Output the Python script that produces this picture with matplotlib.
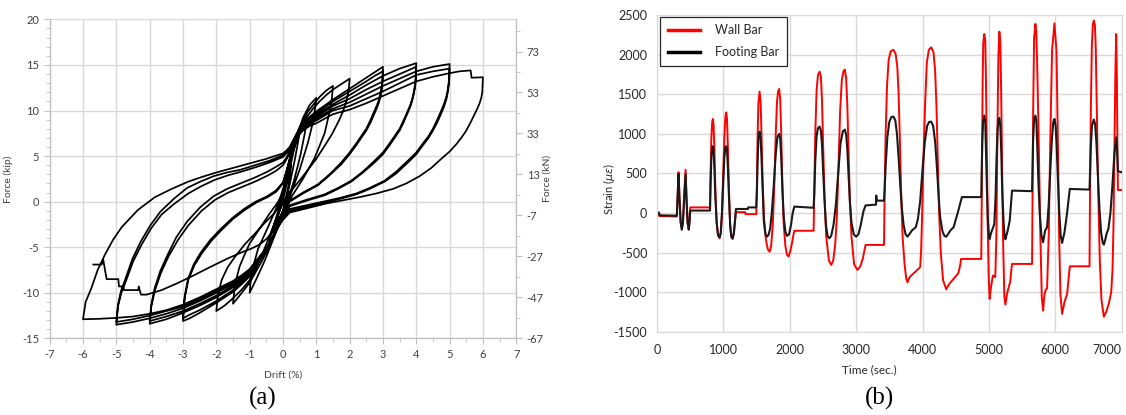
import matplotlib
matplotlib.use("Agg")
import matplotlib.pyplot as plt
from matplotlib.lines import Line2D
from matplotlib.ticker import MultipleLocator, FixedLocator

plt.rcParams['font.family'] = ['Lato', 'DejaVu Sans']
plt.rcParams['axes.unicode_minus'] = False

# ---------------- (a) force - drift, drift (%) / force (kip) ----------------
start = [(0.0, 0.0)]
c025 = [(0.1, 1.8), (0.25, 4.0), (0.15, 1.5), (0.0, -1.0), (-0.15, -2.2), (-0.25, -3.0)]
c05 = [(-0.1, -1.0), (0.1, 2.5), (0.3, 5.5), (0.5, 7.5), (0.35, 4.5), (0.15, 1.0), (0.0, -1.2),
       (-0.25, -3.5), (-0.5, -5.8)]
c1 = [(-0.35, -3.5), (-0.1, -0.5), (0.15, 3.5), (0.35, 6.5), (0.6, 9.2), (0.8, 10.6), (1.0, 11.4),
      (0.92, 9.0), (0.75, 6.5), (0.5, 3.5), (0.25, 1.0), (0.0, -1.5), (-0.3, -4.2), (-0.55, -6.5),
      (-0.8, -8.5), (-1.0, -10.0)]
c15 = [(-0.97, -8.7), (-0.92, -7.5), (-0.75, -5.2), (-0.45, -2.8), (-0.15, -0.3), (0.1, 2.5),
       (0.25, 5.0), (0.45, 7.8), (0.75, 9.9), (1.1, 11.5), (1.3, 12.2), (1.5, 12.7),
       (1.47, 11.4), (1.42, 10.2), (1.25, 7.5), (0.95, 4.8), (0.6, 2.5), (0.25, 0.5), (0.0, -1.3),
       (-0.3, -3.8), (-0.6, -6.3), (-1.0, -8.9), (-1.3, -10.3), (-1.5, -11.2)]
c2 = [(-1.46, -9.8), (-1.4, -8.5), (-1.3, -7.1), (-1.15, -5.8), (-1.0, -4.6), (-0.8, -3.5),
      (-0.6, -2.4), (-0.4, -1.3), (-0.2, -0.3), (0.0, 0.8), (0.1, 2.0), (0.2, 3.5), (0.3, 5.2),
      (0.4, 6.8), (0.55, 8.1), (0.7, 9.2), (0.9, 10.2), (1.1, 11.0), (1.3, 11.7), (1.5, 12.3),
      (1.75, 12.9), (2.0, 13.5),
      (1.97, 12.2), (1.9, 11.0), (1.8, 9.9), (1.68, 8.9), (1.47, 7.4), (1.23, 6.0), (0.98, 4.6),
      (0.73, 3.4), (0.45, 2.1), (0.2, 1.0), (0.0, -0.2), (-0.15, -1.4), (-0.3, -2.8), (-0.45, -4.2),
      (-0.6, -5.6), (-0.8, -7.2), (-1.0, -8.6), (-1.25, -9.7), (-1.5, -10.6), (-1.75, -11.4),
      (-2.0, -12.0)]
c3a = [(-1.95, -10.2), (-1.84, -8.6), (-1.66, -7.2), (-1.44, -6.05), (-1.15, -4.7), (-0.84, -3.5),
       (-0.54, -2.3), (-0.24, -1.2), (-0.05, 0.0), (0.05, 1.5), (0.12, 3.0), (0.2, 4.5), (0.35, 6.8),
       (0.47, 7.8), (0.6, 8.6), (0.8, 9.3), (1.0, 9.9), (1.5, 11.2), (2.0, 12.4), (2.5, 13.6),
       (2.75, 14.2), (3.0, 14.8),
       (2.99, 13.7), (2.97, 12.8), (2.93, 12.0), (2.88, 11.2), (2.82, 10.6), (2.75, 10.0),
       (2.63, 9.0), (2.5, 8.0), (2.35, 7.2), (2.2, 6.4), (2.0, 5.4), (1.75, 4.3), (1.4, 3.0),
       (1.05, 1.9), (0.6, 1.0), (0.2, 0.1), (0.0, -1.3), (-0.15, -2.6), (-0.27, -3.6), (-0.4, -4.6),
       (-0.55, -5.6), (-0.7, -6.5), (-1.0, -8.2), (-1.25, -9.1), (-1.5, -9.9), (-2.0, -11.1),
       (-2.5, -12.2), (-2.8, -12.8), (-3.0, -13.1)]
c3b = [(-2.95, -10.6), (-2.84, -8.6), (-2.66, -7.0), (-2.44, -5.7), (-2.15, -4.3), (-1.84, -3.1),
       (-1.5, -1.9), (-1.14, -0.9), (-0.8, -0.1), (-0.44, 0.54), (-0.2, 1.1), (0.0, 2.0), (0.1, 3.2),
       (0.2, 4.6), (0.35, 6.8), (0.47, 7.7), (0.6, 8.5), (0.8, 9.2), (1.0, 9.7), (1.5, 11.0),
       (2.0, 12.1), (2.5, 13.2), (2.75, 13.8), (3.0, 14.3),
       (2.99, 13.3), (2.97, 12.4), (2.93, 11.6), (2.88, 10.9), (2.82, 10.3), (2.75, 9.7),
       (2.63, 8.7), (2.5, 7.8), (2.35, 7.0), (2.2, 6.2), (2.0, 5.2), (1.75, 4.1), (1.4, 2.9),
       (1.05, 1.8), (0.6, 0.9), (0.2, 0.0), (0.0, -1.4), (-0.15, -2.6), (-0.27, -3.6), (-0.4, -4.6),
       (-0.55, -5.5), (-0.7, -6.4), (-1.0, -8.0), (-1.25, -8.9), (-1.5, -9.7), (-2.0, -10.9),
       (-2.5, -11.9), (-2.8, -12.4), (-3.0, -12.8)]
c4a = [(-2.95, -10.4), (-2.85, -8.5), (-2.68, -6.9), (-2.47, -5.6), (-2.18, -4.2), (-1.87, -3.0),
       (-1.52, -1.8), (-1.17, -0.8), (-0.82, 0.0), (-0.47, 0.6), (-0.22, 1.2), (0.0, 2.1), (0.1, 3.3),
       (0.2, 4.7), (0.35, 6.9), (0.47, 7.8), (0.6, 8.4), (0.8, 9.0), (1.0, 9.5), (1.5, 10.7),
       (2.0, 11.7), (2.5, 12.8), (3.0, 13.8), (3.5, 14.6), (3.75, 14.9), (4.0, 15.2),
       (3.99, 14.1), (3.97, 13.0), (3.93, 12.1), (3.88, 11.3), (3.82, 10.6), (3.75, 10.0),
       (3.63, 9.0), (3.5, 8.0), (3.35, 7.2), (3.2, 6.4), (3.0, 5.4), (2.75, 4.5), (2.4, 3.3),
       (2.05, 2.3), (1.65, 1.5), (1.25, 0.8), (0.7, 0.2), (0.2, -0.4), (0.0, -1.6), (-0.15, -2.6),
       (-0.27, -3.6), (-0.4, -4.6), (-0.55, -5.5), (-0.7, -6.3), (-1.0, -7.8), (-1.25, -8.7),
       (-1.5, -9.4), (-2.0, -10.5), (-2.5, -11.4), (-3.0, -12.2), (-3.5, -12.9), (-4.0, -13.4)]
c4b = [(-3.95, -11.5), (-3.84, -9.7), (-3.66, -7.8), (-3.44, -6.05), (-3.15, -4.2), (-2.84, -2.6),
       (-2.44, -1.0), (-2.04, 0.2), (-1.64, 1.0), (-1.24, 1.6), (-0.84, 2.2), (-0.44, 2.9),
       (-0.2, 3.4), (0.0, 4.0), (0.1, 4.6), (0.2, 5.3), (0.35, 6.9), (0.47, 7.7), (0.6, 8.3),
       (0.8, 8.9), (1.0, 9.3), (1.5, 10.5), (2.0, 11.3), (2.5, 12.3), (3.0, 13.2), (3.5, 14.0),
       (3.75, 14.4), (4.0, 14.8),
       (3.99, 13.7), (3.97, 12.7), (3.93, 11.9), (3.88, 11.1), (3.82, 10.4), (3.75, 9.8),
       (3.63, 8.8), (3.5, 7.8), (3.35, 7.0), (3.2, 6.2), (3.0, 5.2), (2.75, 4.3), (2.4, 3.2),
       (2.05, 2.2), (1.65, 1.4), (1.25, 0.7), (0.7, 0.1), (0.2, -0.5), (0.0, -1.7), (-0.15, -2.6),
       (-0.27, -3.6), (-0.4, -4.6), (-0.55, -5.5), (-0.7, -6.3), (-1.0, -7.7), (-1.25, -8.5),
       (-1.5, -9.2), (-2.0, -10.3), (-2.5, -11.2), (-3.0, -12.0), (-3.5, -12.6), (-4.0, -13.1)]
c5a = [(-3.95, -11.3), (-3.85, -9.5), (-3.68, -7.6), (-3.47, -5.9), (-3.2, -3.9), (-2.88, -2.2),
       (-2.48, -0.6), (-2.08, 0.6), (-1.68, 1.4), (-1.28, 2.0), (-0.87, 2.6), (-0.46, 3.3),
       (-0.22, 3.8), (0.0, 4.3), (0.1, 4.8), (0.2, 5.5), (0.35, 6.9), (0.47, 7.6), (0.6, 8.2),
       (0.8, 8.7), (1.0, 9.1), (1.5, 10.2), (2.0, 10.9), (2.5, 11.8), (3.0, 12.7), (3.5, 13.5),
       (4.0, 14.3), (4.5, 14.8), (5.0, 15.1),
       (4.99, 14.0), (4.97, 13.0), (4.94, 12.2), (4.9, 11.5), (4.83, 10.7), (4.75, 10.0),
       (4.63, 9.0), (4.5, 8.0), (4.35, 7.1), (4.2, 6.4), (4.0, 5.4), (3.75, 4.5), (3.4, 3.3),
       (3.05, 2.3), (2.6, 1.5), (2.2, 0.9), (1.7, 0.4), (1.2, 0.0), (0.7, -0.4), (0.2, -0.8),
       (0.0, -1.8), (-0.15, -2.7), (-0.27, -3.6), (-0.4, -4.6), (-0.55, -5.4), (-0.7, -6.2),
       (-1.0, -7.6), (-1.25, -8.4), (-1.5, -9.0), (-2.0, -10.0), (-2.5, -10.9), (-3.0, -11.7),
       (-3.5, -12.3), (-4.0, -12.8), (-4.5, -13.2), (-5.0, -13.5)]
c5b = [(-4.95, -11.5), (-4.85, -10.0), (-4.7, -8.6), (-4.5, -6.6), (-4.24, -4.7), (-3.95, -2.9),
       (-3.64, -1.4), (-3.25, -0.2), (-2.84, 0.9), (-2.45, 1.7), (-2.04, 2.4), (-1.64, 2.9),
       (-1.24, 3.3), (-0.8, 3.8), (-0.4, 4.3), (-0.2, 4.6), (0.0, 4.9), (0.1, 5.3), (0.2, 5.7),
       (0.35, 6.9), (0.47, 7.5), (0.6, 8.0), (0.8, 8.5), (1.0, 8.9), (1.5, 10.0), (2.0, 10.5),
       (2.5, 11.3), (3.0, 12.1), (3.5, 13.0), (4.0, 13.9), (4.5, 14.3), (5.0, 14.6),
       (4.99, 13.5), (4.97, 12.6), (4.94, 11.9), (4.9, 11.2), (4.83, 10.4), (4.75, 9.7),
       (4.63, 8.7), (4.5, 7.8), (4.35, 6.9), (4.2, 6.2), (4.0, 5.2), (3.75, 4.3), (3.4, 3.1),
       (3.05, 2.2), (2.6, 1.4), (2.2, 0.8), (1.7, 0.3), (1.2, -0.1), (0.7, -0.6), (0.2, -1.0),
       (0.0, -1.9), (-0.15, -2.7), (-0.27, -3.6), (-0.4, -4.6), (-0.55, -5.4), (-0.7, -6.1),
       (-1.0, -7.5), (-1.25, -8.3), (-1.5, -8.9), (-2.0, -9.8), (-2.5, -10.7), (-3.0, -11.5),
       (-3.5, -12.0), (-4.0, -12.5), (-4.5, -12.9), (-5.0, -13.2)]
c6 = [(-4.95, -11.3), (-4.86, -9.8), (-4.72, -8.4), (-4.52, -6.3), (-4.27, -4.4), (-3.98, -2.6),
      (-3.68, -1.1), (-3.28, 0.3), (-2.88, 1.5), (-2.48, 2.2), (-2.08, 2.8), (-1.68, 3.2),
      (-1.28, 3.5), (-0.84, 4.0), (-0.4, 4.5), (-0.2, 4.8), (0.0, 5.1), (0.1, 5.4), (0.2, 5.8),
      (0.35, 6.8), (0.47, 7.3), (0.6, 7.8), (0.8, 8.3), (1.0, 8.6), (1.5, 9.6), (2.0, 10.1),
      (2.5, 10.8), (3.0, 11.6), (3.5, 12.4), (4.0, 13.2), (4.5, 13.7), (5.0, 14.1), (5.3, 14.3),
      (5.63, 14.4), (5.66, 13.6), (6.0, 13.65),
      (5.99, 12.8), (5.98, 12.0), (5.95, 11.4), (5.9, 10.8), (5.83, 10.2), (5.75, 9.6), (5.63, 8.7),
      (5.5, 7.8), (5.35, 7.0), (5.2, 6.3), (5.0, 5.5), (4.75, 4.7), (4.45, 3.7), (4.1, 2.8),
      (3.7, 2.0), (3.3, 1.4), (2.8, 0.9), (2.3, 0.5), (1.8, 0.15), (1.3, -0.2), (0.75, -0.7),
      (0.2, -1.2), (0.0, -2.0), (-0.15, -2.8), (-0.27, -3.7), (-0.4, -4.6), (-0.55, -5.3),
      (-0.7, -6.0), (-1.0, -7.4), (-1.25, -8.1), (-1.5, -8.7), (-2.0, -9.6), (-2.5, -10.5),
      (-3.0, -11.3), (-3.5, -11.9), (-4.0, -12.3), (-4.5, -12.6), (-5.0, -12.75), (-5.5, -12.85),
      (-6.0, -12.9)]
c_end = [(-5.92, -11.0), (-5.75, -9.5), (-5.56, -7.5), (-5.34, -5.8), (-5.1, -4.2), (-4.84, -2.8),
         (-4.35, -0.9), (-3.84, 0.5), (-3.34, 1.4), (-2.84, 2.2), (-2.4, 2.75), (-2.0, 3.2),
         (-1.5, 3.7), (-1.0, 4.2), (-0.5, 4.7), (0.0, 5.3), (0.1, 5.6), (0.2, 6.0), (0.3, 6.7),
         (0.4, 7.4), (0.55, 8.1), (0.7, 8.7),
         (0.66, 7.6), (0.6, 6.5), (0.53, 5.2), (0.45, 4.0), (0.33, 2.3), (0.2, 0.8), (0.1, -0.1),
         (0.0, -1.0), (-0.15, -2.2), (-0.3, -3.3), (-0.5, -4.1), (-0.7, -4.7), (-0.95, -5.15),
         (-1.2, -5.5), (-1.64, -6.2), (-2.2, -7.2), (-2.74, -8.2), (-3.2, -9.0), (-3.64, -9.7),
         (-4.09, -10.2), (-4.26, -10.2), (-4.33, -9.3), (-4.34, -9.7), (-4.77, -9.7), (-4.79, -9.3),
         (-4.92, -9.3), (-4.94, -8.5), (-5.29, -8.5), (-5.34, -7.5), (-5.39, -6.4), (-5.44, -6.9),
         (-5.69, -6.9)]

KIP_TO_KN = 4.448

# ---------------- (b) strain - time, time (s) / strain (micro-strain) ----------------
time_ticks = [0, 1000, 2000, 3000, 4000, 5000, 6000, 7000]

wall = [(0, 0), (40, -40), (300, -45),
        (315, 300), (326, 515), (338, 250), (358, -120), (375, -210), (392, -120), (412, 250),
        (432, 545), (444, 250), (462, -120), (480, -210), (492, -100), (502, 70), (800, 70),
        (808, 500), (820, 950), (833, 1150), (843, 1187), (853, 1120), (866, 800), (880, 300),
        (900, -120), (920, -280), (944, -320), (962, -250), (980, 0), (998, 500), (1015, 950),
        (1032, 1220), (1044, 1270), (1056, 1180), (1070, 800), (1085, 300), (1103, -150),
        (1120, -300), (1140, -330), (1160, -250), (1178, -80), (1190, 10), (1330, 10), (1335, -15),
        (1496, -15),
        (1505, 300), (1515, 900), (1528, 1380), (1546, 1532), (1562, 1400), (1575, 1000), (1592, 400),
        (1612, -50), (1640, -330), (1670, -460), (1697, -490), (1720, -420), (1745, -150), (1770, 400),
        (1790, 1000), (1808, 1400), (1825, 1540), (1842, 1566), (1858, 1420), (1872, 1000), (1890, 350),
        (1910, -150), (1935, -420), (1960, -530), (1983, -550), (2010, -480), (2035, -380),
        (2055, -280), (2070, -225), (2360, -225),
        (2370, 300), (2385, 1000), (2405, 1550), (2425, 1740), (2450, 1785), (2470, 1720), (2487, 1400),
        (2505, 800), (2525, 200), (2550, -300), (2590, -600), (2625, -657), (2655, -600), (2685, -400),
        (2710, -50), (2735, 600), (2760, 1300), (2785, 1680), (2810, 1790), (2830, 1810), (2850, 1700),
        (2868, 1350), (2885, 800), (2905, 200), (2930, -300), (2970, -650), (3020, -720),
        (3060, -680), (3100, -580), (3130, -450), (3142, -404), (3420, -404),
        (3430, 300), (3445, 1000), (3465, 1600), (3490, 1930), (3520, 2040), (3562, 2060), (3595, 2010),
        (3620, 1850), (3640, 1500), (3660, 900), (3680, 200), (3700, -300), (3730, -650),
        (3755, -830), (3774, -876), (3800, -820), (3830, -790), (3870, -760), (3920, -720),
        (3965, -686), (3980, -450), (3995, 0), (4015, 700), (4040, 1400), (4065, 1900), (4095, 2060),
        (4131, 2092), (4165, 2030), (4190, 1800), (4210, 1350), (4230, 700), (4250, 0), (4275, -500),
        (4310, -850), (4357, -964), (4400, -900), (4450, -850), (4500, -800), (4540, -760),
        (4570, -650), (4580, -581), (4885, -581),
        (4890, -100), (4898, 800), (4906, 1700), (4915, 2150), (4930, 2260), (4945, 2180), (4955, 1700),
        (4966, 900), (4981, -100), (4996, -800), (5011, -1086), (5031, -940), (5046, -860),
        (5061, -790), (5081, -805), (5096, -810), (5112, -300), (5127, 900), (5142, 1950), (5157, 2290),
        (5172, 2150), (5185, 1500), (5197, 700), (5212, -300), (5232, -1050), (5248, -1158),
        (5273, -1020), (5298, -940), (5323, -860), (5340, -700), (5348, -644), (5650, -644),
        (5655, 0), (5665, 1200), (5680, 2200), (5700, 2387), (5712, 2300), (5725, 1950), (5750, 900),
        (5775, -300), (5796, -1060), (5816, -1234), (5836, -1030), (5856, -970), (5876, -950),
        (5901, -270), (5926, 1000), (5951, 2050), (5987, 2395), (6017, 2050), (6037, 1000),
        (6057, -270), (6077, -1030), (6102, -1276), (6137, -1130), (6178, -1020), (6203, -810),
        (6218, -674), (6515, -674),
        (6522, 200), (6535, 1300), (6550, 2100), (6565, 2380), (6580, 2430), (6597, 2370), (6610, 2050),
        (6625, 1300), (6645, 300), (6670, -600), (6695, -1100), (6731, -1310), (6771, -1240),
        (6807, -1140), (6842, -1000), (6862, -700), (6875, -200), (6890, 800), (6905, 1800),
        (6917, 2260), (6927, 1700), (6935, 900), (6943, 290), (7000, 290)]

footing = [(0, 0), (30, 5), (45, -30), (300, -35),
           (312, 200), (326, 490), (338, 200), (358, -120), (375, -210), (392, -120), (412, 200),
           (432, 490), (444, 200), (462, -120), (480, -210), (492, -100), (502, 30), (800, 30),
           (808, 350), (820, 700), (833, 830), (843, 842), (853, 800), (866, 560), (880, 200),
           (900, -120), (920, -280), (944, -310), (962, -250), (980, 0), (998, 350), (1015, 700),
           (1032, 830), (1044, 842), (1056, 790), (1070, 550), (1085, 200), (1103, -150),
           (1120, -300), (1140, -320), (1160, -250), (1178, -80), (1190, 50), (1370, 50), (1375, 70),
           (1496, 70),
           (1505, 250), (1515, 600), (1528, 930), (1546, 1027), (1562, 950), (1575, 700), (1592, 300),
           (1610, -100), (1632, -260), (1657, -300), (1680, -280), (1705, -200), (1730, 0),
           (1760, 350), (1790, 750), (1815, 960), (1842, 998), (1858, 930), (1872, 700), (1890, 300),
           (1910, -50), (1935, -240), (1958, -290), (1990, -270), (2020, -150), (2045, 0),
           (2070, 80), (2360, 65),
           (2370, 250), (2385, 650), (2405, 970), (2425, 1070), (2450, 1090), (2470, 1040), (2487, 850),
           (2505, 500), (2525, 150), (2545, -150), (2570, -290), (2595, -320), (2625, -290),
           (2660, -150), (2695, 100), (2730, 500), (2765, 880), (2800, 1030), (2830, 1052),
           (2850, 990), (2868, 800), (2885, 500), (2905, 150), (2930, -120), (2965, -270),
           (3000, -300), (3035, -270), (3070, -150), (3110, 20), (3142, 95), (3300, 105),
           (3303, 220), (3310, 155), (3420, 155),
           (3430, 300), (3445, 600), (3470, 950), (3500, 1150), (3530, 1210), (3562, 1217),
           (3590, 1170), (3615, 1000), (3640, 700), (3665, 350), (3690, 50), (3715, -150),
           (3745, -270), (3774, -300), (3800, -270), (3839, -223), (3899, -180), (3930, -80),
           (3965, 150), (4000, 550), (4035, 900), (4070, 1100), (4100, 1150), (4131, 1153),
           (4160, 1100), (4190, 900), (4215, 600), (4240, 250), (4265, -50), (4300, -230),
           (4330, -290), (4357, -300), (4390, -260), (4418, -223), (4468, -180), (4530, 0),
           (4593, 200), (4885, 200),
           (4890, 500), (4900, 900), (4912, 1150), (4930, 1230), (4945, 1150), (4955, 800), (4970, 300),
           (4985, -100), (5000, -280), (5011, -328), (5030, -260), (5046, -223), (5081, -140),
           (5100, 200), (5115, 700), (5130, 1050), (5145, 1180), (5157, 1200), (5172, 1100),
           (5185, 800), (5200, 300), (5220, -100), (5235, -280), (5248, -333), (5283, -223),
           (5313, -100), (5348, 282), (5650, 275),
           (5655, 500), (5665, 900), (5680, 1170), (5700, 1230), (5715, 1150), (5728, 850), (5745, 400),
           (5765, 0), (5790, -280), (5816, -370), (5846, -223), (5876, -180), (5900, 100), (5925, 550),
           (5950, 950), (5970, 1150), (5987, 1187), (6005, 1100), (6020, 850), (6040, 400), (6060, 0),
           (6080, -280), (6102, -379), (6137, -250), (6170, -50), (6218, 303), (6515, 295),
           (6522, 500), (6535, 850), (6552, 1100), (6580, 1180), (6600, 1120), (6618, 900), (6640, 500),
           (6665, 50), (6690, -250), (6715, -380), (6731, -400), (6755, -330), (6771, -265),
           (6800, -200), (6830, 0), (6860, 350), (6890, 750), (6917, 955), (6930, 800), (6943, 526),
           (7000, 515)]

text_col = '#404040'
grid_col = '#d9d9d9'

fig = plt.figure(figsize=(11.26, 4.15), dpi=100)

# ---- panel (a)
ax = fig.add_axes([0.0441, 0.1846, 0.4144, 0.7687])
path = start + c025 + c05 + c1 + c15 + c2 + c3a + c3b + c4a + c4b + c5a + c5b + c6 + c_end
drift = [p[0] for p in path]
force = [p[1] for p in path]
ax.plot(drift, force, color='black', lw=1.25, solid_joinstyle='round')

ax.set_xlim(-7, 7)
ax.set_ylim(-15, 20)
ax.xaxis.set_major_locator(MultipleLocator(1))
ax.xaxis.set_minor_locator(MultipleLocator(0.5))
ax.yaxis.set_major_locator(MultipleLocator(5))
ax.yaxis.set_minor_locator(MultipleLocator(1))
ax.grid(True, which='major', color=grid_col, lw=1)
ax.set_axisbelow(True)
for s in ['left', 'bottom', 'right']:
    ax.spines[s].set_color('#bfbfbf')
ax.spines['top'].set_visible(False)
ax.tick_params(which='both', direction='out', colors='#bfbfbf', labelcolor=text_col, labelsize=8)
ax.tick_params(which='major', length=4)
ax.tick_params(which='minor', length=3)
ax.set_xlabel('Drift (%)', fontsize=7.5, color=text_col)
ax.set_ylabel('Force (kip)', fontsize=7.5, color=text_col)
ax.xaxis.set_label_coords(0.5, -0.1)
ax.yaxis.set_label_coords(-0.079, 0.5)

ax2 = ax.twinx()
ax2.set_ylim(-15 * KIP_TO_KN, 20 * KIP_TO_KN)
kn_major = [-15 * KIP_TO_KN + 20 * k for k in range(8)]
kn_minor = [-15 * KIP_TO_KN + 10 * k for k in range(16)]
ax2.yaxis.set_major_locator(FixedLocator(kn_major))
ax2.yaxis.set_minor_locator(FixedLocator(kn_minor))
ax2.set_yticklabels([f"{round(v):d}" for v in kn_major])
for s in ['left', 'bottom', 'right']:
    ax2.spines[s].set_color('#bfbfbf')
ax2.spines['top'].set_visible(False)
ax2.tick_params(which='both', direction='out', colors='#bfbfbf', labelcolor=text_col, labelsize=8)
ax2.tick_params(which='major', length=4)
ax2.tick_params(which='minor', length=3)
ax2.set_ylabel('Force (kN)', fontsize=7.5, color=text_col)
ax2.yaxis.set_label_coords(1.056, 0.5)

# ---- panel (b)
bx = fig.add_axes([0.5834, 0.2007, 0.4128, 0.7632])
bx.plot([p[0] for p in wall], [p[1] for p in wall], color='#ff0000', lw=1.4)
bx.plot([p[0] for p in footing], [p[1] for p in footing], color='#1a1a1a', lw=1.5)
bx.set_xlim(0, 7000)
bx.set_ylim(-1500, 2500)
bx.set_xticks(time_ticks)
bx.set_xticklabels([str(t) for t in time_ticks])
bx.yaxis.set_major_locator(MultipleLocator(500))
bx.grid(True, color=grid_col, lw=1)
bx.set_axisbelow(True)
for s in bx.spines.values():
    s.set_color(grid_col)
bx.tick_params(length=0, labelsize=9, labelcolor='#262626')
bx.tick_params(axis='y', pad=7)
bx.tick_params(axis='x', pad=9)
bx.get_xticklabels()[-1].set_horizontalalignment('right')
bx.set_xlabel('Time (sec.)', fontsize=8.5, color='#262626')
bx.xaxis.set_label_coords(0.458, -0.102)
bx.set_ylabel(r'Strain ($\mu\varepsilon$)', fontsize=8, color='#262626')
bx.yaxis.set_label_coords(-0.086, 0.45)

handles = [Line2D([0], [0], color='#ff0000', lw=2.5), Line2D([0], [0], color='black', lw=2.5)]
leg = bx.legend(handles, ['Wall Bar', 'Footing Bar'], loc='upper left', bbox_to_anchor=(0.007, 0.994),
                borderaxespad=0, fontsize=9, handlelength=2.6, handletextpad=1.2, labelspacing=0.8,
                borderpad=0.6, fancybox=False, framealpha=1)
leg.get_frame().set_edgecolor('#262626')
leg.get_frame().set_linewidth(0.9)
for t in leg.get_texts():
    t.set_color('#262626')

fig.text(263 / 1126, 1 - 398 / 415, '(a)', family='Liberation Serif', fontsize=18, ha='center', va='center')
fig.text(880 / 1126, 1 - 398 / 415, '(b)', family='Liberation Serif', fontsize=18, ha='center', va='center')

fig.savefig('out.png', dpi=100)
